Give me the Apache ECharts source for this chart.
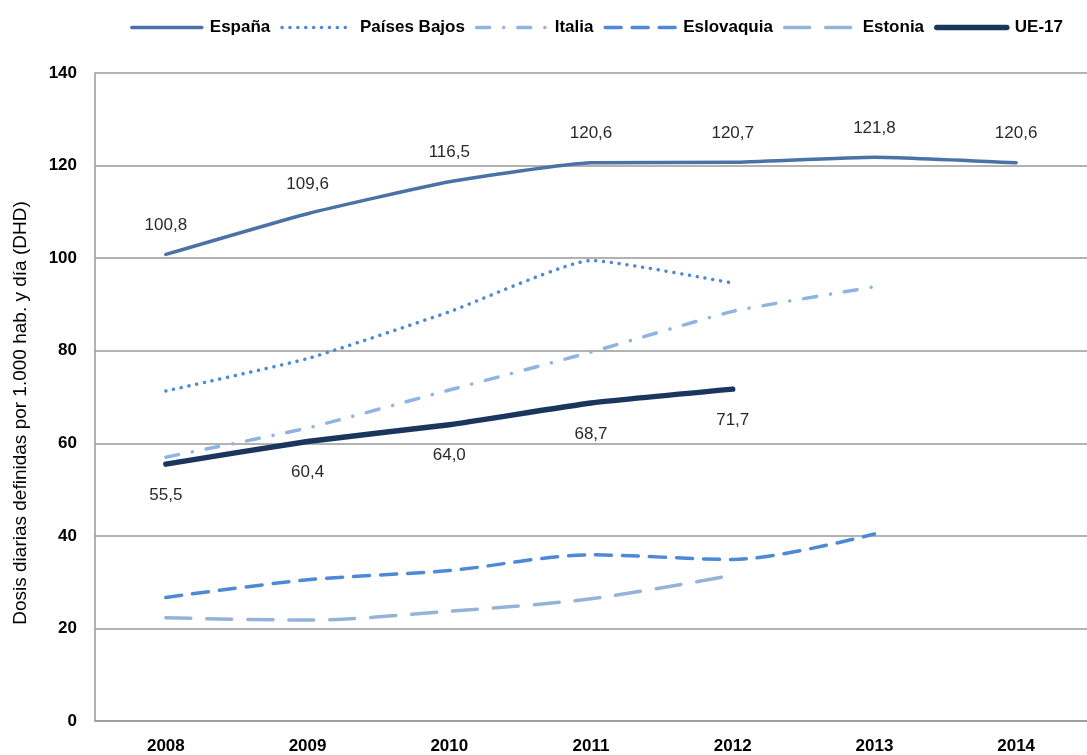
<!DOCTYPE html>
<html><head><meta charset="utf-8">
<script src="https://cdn.jsdelivr.net/npm/echarts@6/dist/echarts.min.js"></script>
<style>html,body{margin:0;padding:0;background:#fff}#c{width:1087px;height:755px}</style>
</head><body><div id="c"></div>
<script>
const years = ['2008','2009','2010','2011','2012','2013','2014'];
const espana = [100.8, 109.6, 116.5, 120.6, 120.7, 121.8, 120.6];
const paisesBajos = [71.3, 78.3, 88.4, 99.5, 94.6, null, null];
const italia = [57.0, 63.3, 71.5, 79.7, 88.5, 93.8, null];
const eslovaquia = [26.7, 30.5, 32.5, 35.9, 34.9, 40.4, null];
const estonia = [22.3, 21.8, 23.7, 26.4, 31.5, null, null];
const ue17 = [55.5, 60.4, 64.0, 68.7, 71.7, null, null];
const yTicks = [0, 20, 40, 60, 80, 100, 120, 140];
const yTitle = 'Dosis diarias definidas por 1.000 hab. y día (DHD)';

const FONT = 'Liberation Sans, Arial, Helvetica, sans-serif';
const fmt = p => p.value == null ? '' : p.value.toFixed(1).replace('.', ',');

function mk(name, data, color, width, type, smooth, label) {
  const s = {
    name, type: 'line', data, smooth,
    symbol: 'circle', symbolSize: 1,
    itemStyle: { color: 'transparent' },
    lineStyle: { color, width, type, cap: 'round', join: 'round' },
    emphasis: { disabled: true },
    connectNulls: false, z: 3
  };
  if (label) s.label = Object.assign({ show: true, formatter: fmt, color: '#2a2a2a', fontSize: 17, fontFamily: FONT }, label);
  return s;
}

const chart = echarts.init(document.getElementById('c'), null, { renderer: 'canvas' });
chart.setOption({
  animation: false,
  backgroundColor: '#fff',
  textStyle: { fontFamily: FONT },
  legend: {
    top: 14, right: 19, itemWidth: 70, itemHeight: 14, itemGap: 10,
    lineStyle: { width: 'inherit', type: 'inherit', cap: 'round' },
    textStyle: { fontSize: 17, fontWeight: 'bold', color: '#000', fontFamily: FONT, padding: [0, 0, 0, 3] },
    data: ['España', 'Países Bajos', 'Italia', 'Eslovaquia', 'Estonia', 'UE-17']
  },
  graphic: [{
    type: 'text', x: 21, y: 413, rotation: Math.PI / 2,
    style: { text: yTitle, fontSize: 19, fontFamily: FONT, fill: '#000', align: 'center', verticalAlign: 'middle' }
  }],
  grid: { left: 95, top: 73, width: 1000, height: 651, containLabel: false },
  xAxis: {
    type: 'category', data: years, boundaryGap: true,
    axisLine: { lineStyle: { color: '#999', width: 1.5 } },
    axisTick: { show: false },
    axisLabel: { fontSize: 17, fontWeight: 'bold', color: '#000', margin: 17, fontFamily: FONT }
  },
  yAxis: {
    type: 'value', min: 0, max: 140, interval: 20,
    axisLine: { show: true, lineStyle: { color: '#999', width: 1.5 } },
    axisTick: { show: false },
    splitLine: { lineStyle: { color: '#999', width: 1.5 } },
    axisLabel: { fontSize: 17, fontWeight: 'bold', color: '#000', margin: 18, fontFamily: FONT,
      formatter: v => yTicks.includes(v) ? String(v) : '' }
  },
  series: [
    mk('España', espana, '#4a72a6', 3.5, 'solid', 0.15, { position: 'top', distance: 20 }),
    mk('Países Bajos', paisesBajos, '#4d89d4', 3.5, [0.1, 7.8], 0.15),
    mk('Italia', italia, '#8fb4e3', 3.5, [13, 14, 0.1, 14], 0.15),
    mk('Eslovaquia', eslovaquia, '#4d89d4', 3.5, [16, 11], 0.3),
    mk('Estonia', estonia, '#95b3d9', 3.5, [25, 16], 0.3),
    mk('UE-17', ue17, '#1b365d', 5.5, 'solid', 0.15, { position: 'bottom', distance: 22 })
  ]
});
</script></body></html>
